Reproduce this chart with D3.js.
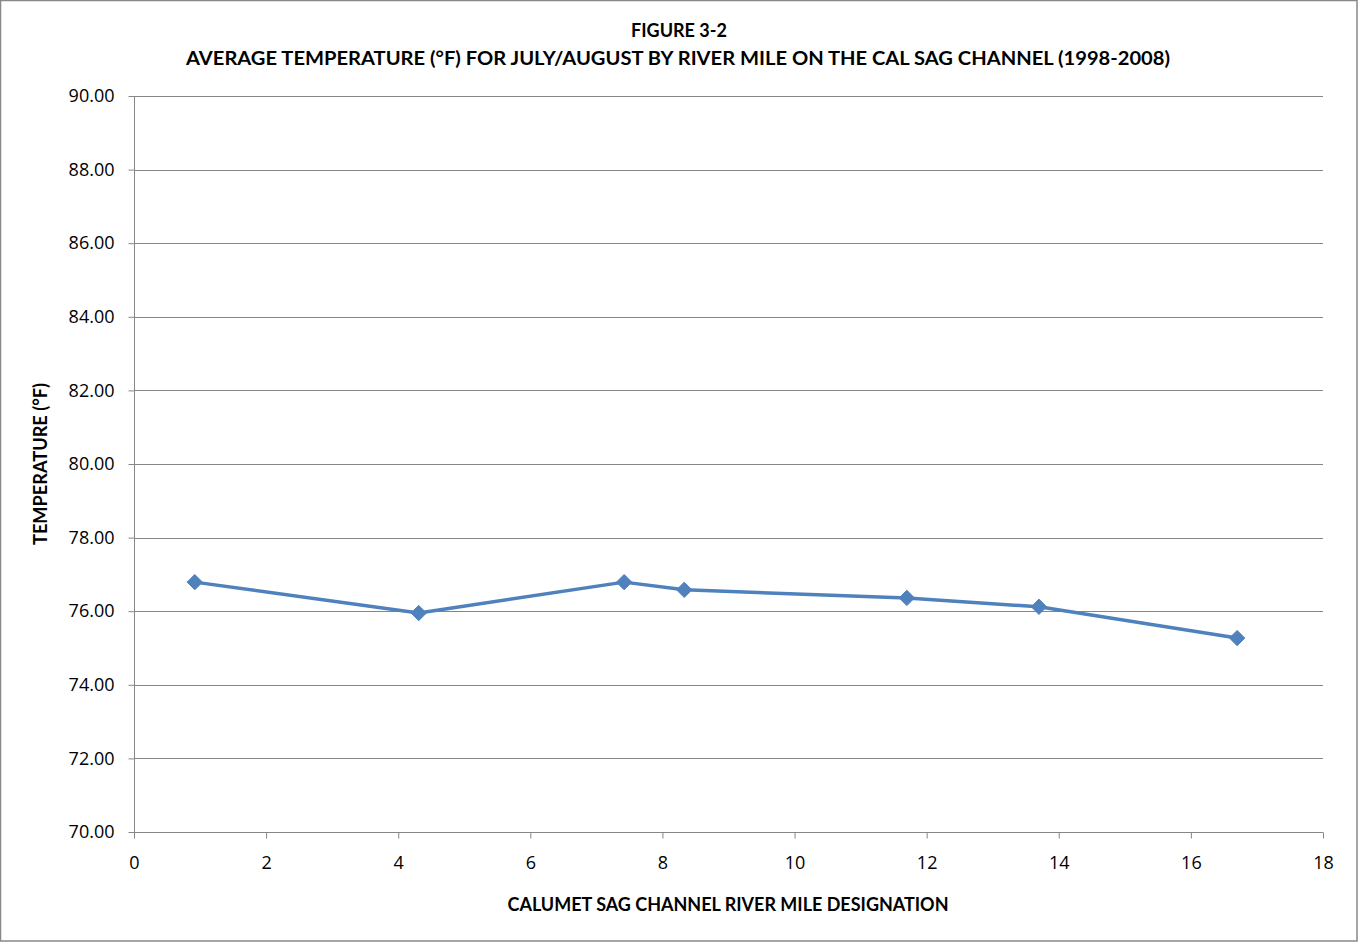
<!DOCTYPE html>
<html><head><meta charset="utf-8">
<script src="https://cdn.jsdelivr.net/npm/d3@7"></script>
<style>body{margin:0;background:#fff}svg{display:block}</style>
</head><body>
<svg id="c" width="1358" height="942"></svg>
<script>
const riverMiles = [0.92, 4.31, 7.42, 8.33, 11.70, 13.70, 16.70];
const temperatures = [76.79, 75.95, 76.79, 76.58, 76.36, 76.12, 75.27];
const yTicks = [70, 72, 74, 76, 78, 80, 82, 84, 86, 88, 90];
const xTicks = [0, 2, 4, 6, 8, 10, 12, 14, 16, 18];
const titleLines = ["FIGURE 3-2", "AVERAGE TEMPERATURE  (°F) FOR JULY/AUGUST BY RIVER MILE ON THE CAL SAG CHANNEL (1998-2008)"];
const xTitle = "CALUMET SAG CHANNEL RIVER MILE DESIGNATION";
const yTitle = "TEMPERATURE (°F)";

const svg = d3.select("#c");
const W = 1358, H = 942;
const m = {l:134, r:1323, t:96, b:832};
const x = d3.scaleLinear().domain([0,18]).range([m.l, m.r]);
const y = d3.scaleLinear().domain([70,90]).range([m.b, m.t]);

svg.append("rect").attr("x",0.5).attr("y",0.5).attr("width",W-1.5).attr("height",H-1.5)
  .attr("fill","#fff").attr("stroke","#888").attr("stroke-width",1.5);

const font = "Lato, 'Open Sans', sans-serif";
const tickFont = "'Open Sans', sans-serif";

// gridlines
svg.append("g").selectAll("line").data(yTicks.filter(d=>d>70)).join("line")
  .attr("x1",m.l).attr("x2",m.r).attr("y1",d=>Math.round(y(d))+0.5).attr("y2",d=>Math.round(y(d))+0.5)
  .attr("stroke","#868686").attr("stroke-width",1);

// y axis
const ya = svg.append("g").attr("transform",`translate(${m.l+0.5},0)`)
  .call(d3.axisLeft(y).tickValues(yTicks).tickSize(6).tickPadding(14).tickFormat(d3.format(".2f")));
ya.select(".domain").attr("stroke","#868686").attr("d",`M0,${m.t}V${m.b}`);
ya.selectAll(".tick line").attr("stroke","#868686");
ya.selectAll(".tick text").attr("font-family",tickFont).attr("font-size",18).attr("fill","#000");

// x axis
const xa = svg.append("g").attr("transform",`translate(0,${m.b+0.5})`)
  .call(d3.axisBottom(x).tickValues(xTicks).tickSize(6).tickPadding(18).tickFormat(d3.format("d")));
xa.select(".domain").attr("stroke","#868686").attr("d",`M${m.l},0H${m.r}`);
xa.selectAll(".tick line").attr("stroke","#868686");
xa.selectAll(".tick text").attr("font-family",tickFont).attr("font-size",18).attr("fill","#000");

// line
const pts = riverMiles.map((d,i)=>[d, temperatures[i]]);
svg.append("path").datum(pts)
  .attr("d", d3.line().x(d=>x(d[0])).y(d=>y(d[1])))
  .attr("fill","none").attr("stroke","#4F81BD").attr("stroke-width",3.5).attr("stroke-linejoin","round");
svg.append("g").selectAll("path").data(pts).join("path")
  .attr("d", d3.symbol(d3.symbolDiamond2, 150))
  .attr("transform", d=>`translate(${x(d[0])},${y(d[1])})`)
  .attr("fill","#4F81BD").attr("stroke","#4F81BD").attr("stroke-width",1);

// titles
svg.append("text").attr("x",679).attr("y",37).attr("text-anchor","middle")
  .attr("font-family",font).attr("font-weight","bold").attr("font-size",18).text(titleLines[0]);
svg.append("text").attr("x",678).attr("y",65).attr("text-anchor","middle")
  .attr("font-family",font).attr("font-weight","bold").attr("font-size",18)
  .attr("textLength",984).attr("lengthAdjust","spacingAndGlyphs").text(titleLines[1]);
svg.append("text").attr("x",728).attr("y",911).attr("text-anchor","middle")
  .attr("font-family",font).attr("font-weight","bold").attr("font-size",18)
  .attr("textLength",441).attr("lengthAdjust","spacingAndGlyphs").text(xTitle);
svg.append("text").attr("transform","translate(47,464) rotate(-90)").attr("text-anchor","middle")
  .attr("font-family",font).attr("font-weight","bold").attr("font-size",18)
  .attr("textLength",162).attr("lengthAdjust","spacingAndGlyphs").text(yTitle);
</script>
</body></html>
